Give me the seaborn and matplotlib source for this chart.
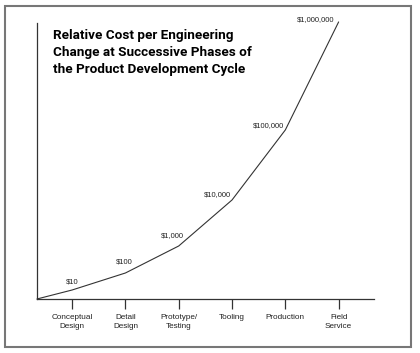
import matplotlib.pyplot as plt
import seaborn as sns
import pandas as pd
from matplotlib.patches import Rectangle

# Fases do ciclo de desenvolvimento
fases = ["Conceptual\nDesign", "Detail\nDesign", "Prototype/\nTesting",
         "Tooling", "Production", "Field\nService"]
# Altura relativa da curva
altura = [9, 26, 53, 99, 169, 277]
# Rotulos de custo
custos = ["$10", "$100", "$1,000", "$10,000", "$100,000", "$1,000,000"]

titulo = ("Relative Cost per Engineering\n"
          "Change at Successive Phases of\n"
          "the Product Development Cycle")

sns.set_theme(style="white")
plt.rcParams['font.family'] = ['Liberation Sans', 'DejaVu Sans']

fig = plt.figure(figsize=(4.2, 3.53), dpi=100)
ax = fig.add_axes([0.088, 0.153, 0.802, 0.782])

x_ini = -0.66
df = pd.DataFrame({"pos": [x_ini] + list(range(len(fases))),
                   "altura": [0] + altura})
sns.lineplot(data=df, x="pos", y="altura", ax=ax, color="#333333",
             linewidth=0.8, clip_on=False)

# Deslocamentos dos rotulos (pixels)
desloc = [(0, 8, "center"), (-1, 11, "center"), (-6, 10, "center"),
          (-15, 5, "center"), (-17, 4, "center"), (-4, 2, "right")]
for i, (c, (dx, dy, ha)) in enumerate(zip(custos, desloc)):
    ax.annotate(c, (i, altura[i]), xytext=(dx, dy), textcoords="offset pixels",
                ha=ha, va="center", fontsize=5.5, color="#222222",
                annotation_clip=False)

ax.set_xlim(x_ini, 5.66)
ax.set_ylim(0, 276)
ax.set_xticks(range(len(fases)))
ax.set_xticklabels(fases, fontsize=5.9, color="#222222", linespacing=1.25)
ax.set_yticks([])
ax.set_xlabel("")
ax.set_ylabel("")
ax.tick_params(axis="x", direction="out", length=7, width=0.9,
               color="#333333", bottom=True, pad=4)
for s in ["top", "right"]:
    ax.spines[s].set_visible(False)
for s in ["left", "bottom"]:
    ax.spines[s].set_color("#333333")
    ax.spines[s].set_linewidth(0.9)

# Titulo
fig.text(0.126, 1 - 29 / 353, titulo, fontsize=9.7, fontweight="bold",
         family=["Roboto", "DejaVu Sans"], ha="left", va="top",
         linespacing=1.42, color="black")

# Moldura externa
fig.patches.append(Rectangle((5 / 420, 6 / 353), 406 / 420, 341 / 353,
                             transform=fig.transFigure, fill=False,
                             edgecolor="#777777", linewidth=1.5))

fig.savefig("out.png", dpi=100)
